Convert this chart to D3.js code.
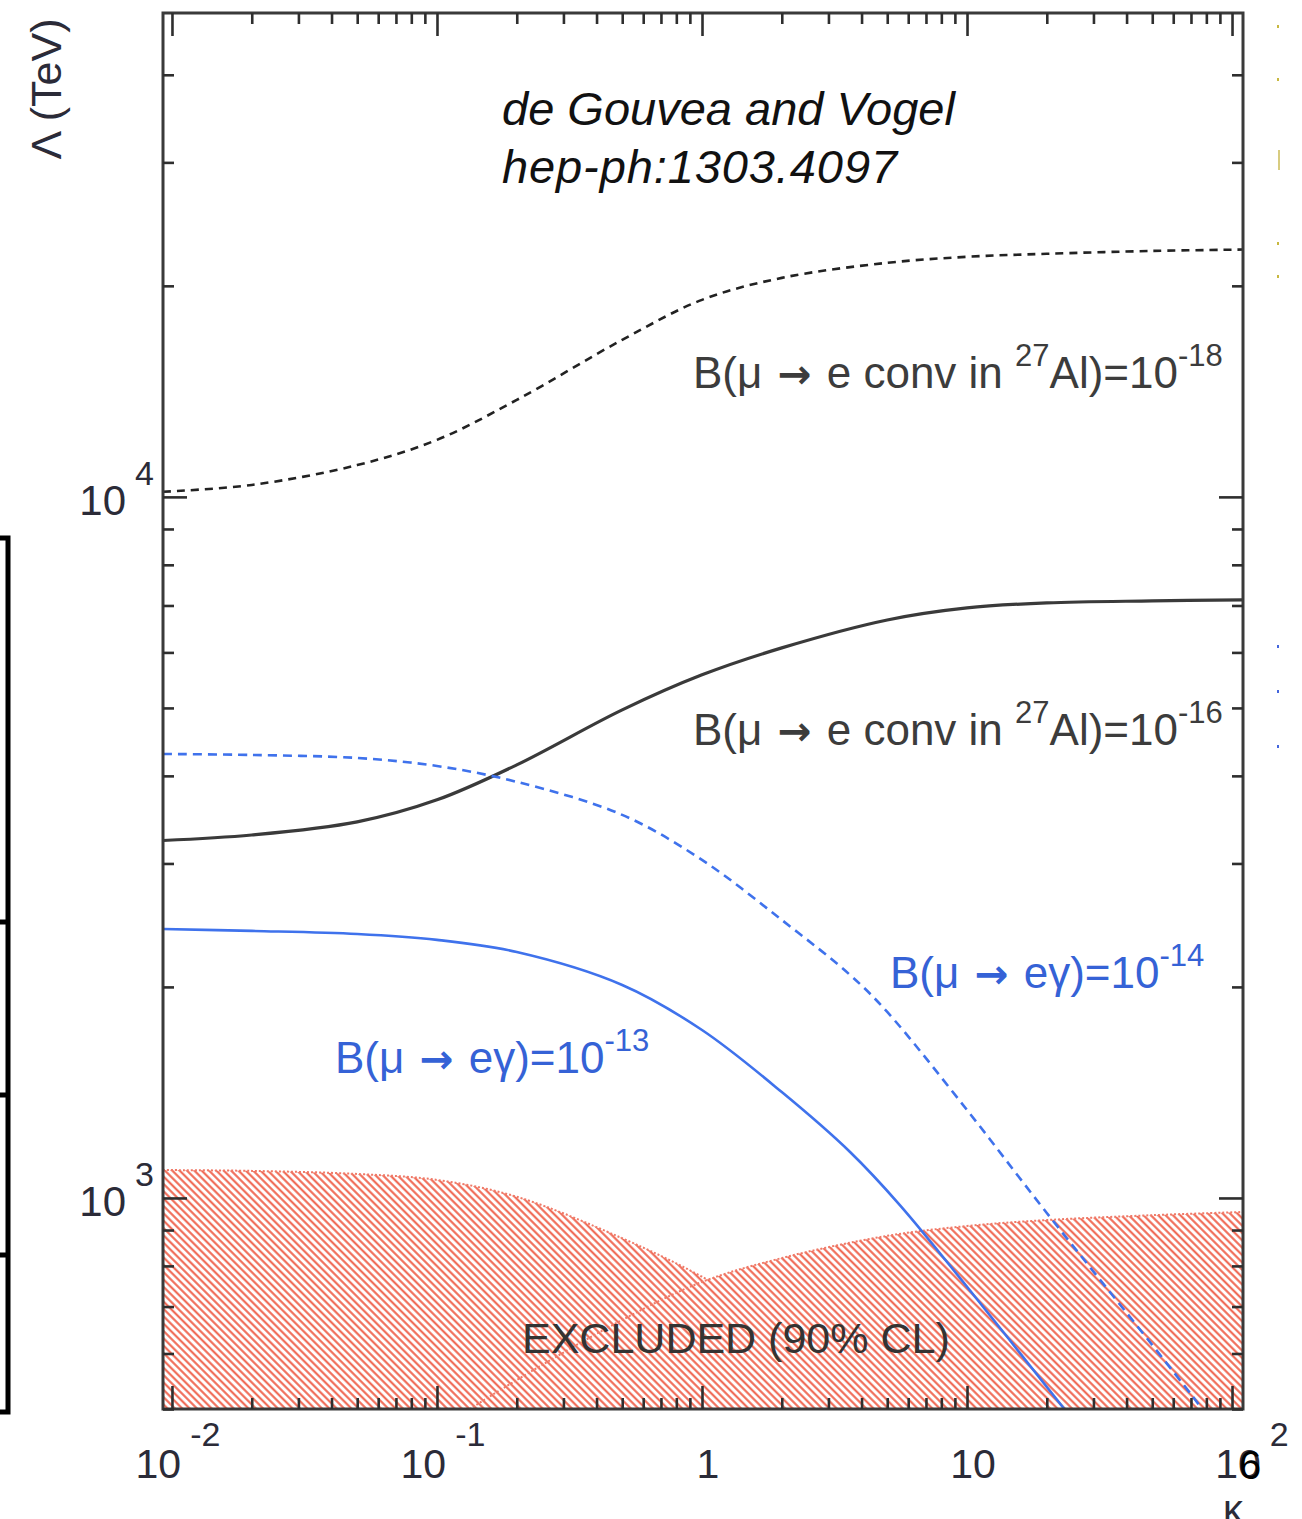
<!DOCTYPE html>
<html>
<head>
<meta charset="utf-8">
<script src="https://cdn.jsdelivr.net/npm/d3@7"></script>
<style>
  body { margin: 0; background: #fff; }
  svg { display: block; font-family: "Liberation Sans", Arial, sans-serif; }
</style>
</head>
<body>
<svg id="chart" width="1302" height="1519"></svg>
<script>
// values: kappa (x) and Lambda in TeV (y)
const kappaConv18 = [0.00925, 0.02, 0.05, 0.1, 0.2, 0.5, 1, 2, 5, 10, 20, 50, 110];
const lambdaConv18 = [10170, 10400, 11100, 12060, 13750, 16750, 19100, 20530, 21570, 22000, 22220, 22430, 22530];

const kappaConv16 = [0.00925, 0.02, 0.05, 0.1, 0.2, 0.5, 1, 2, 5, 10, 20, 50, 110];
const lambdaConv16 = [3235, 3294, 3439, 3697, 4147, 4968, 5574, 6090, 6675, 6945, 7060, 7106, 7130];

const kappaMeg14 = [0.00925, 0.02, 0.05, 0.1, 0.2, 0.5, 1, 2, 3.62, 5, 10, 20, 50, 71.3, 77];
const lambdaMeg14 = [4298, 4284, 4242, 4132, 3922, 3519, 3035, 2492, 2080, 1842, 1335, 952, 617, 520, 500];

const kappaMeg13 = [0.00925, 0.02, 0.05, 0.1, 0.2, 0.5, 1, 2, 3.62, 5.58, 10, 23.3];
const lambdaMeg13 = [2419, 2404, 2380, 2334, 2243, 2013, 1736, 1416, 1163, 977, 747, 500];

// excluded regions (upper edges)
const kappaExclA = [0.00925, 0.02, 0.05, 0.1, 0.2, 0.5, 1, 2, 4];
const lambdaExclA = [1096, 1093, 1082, 1061, 1004, 876, 772, 659, 500];
const kappaExclB = [0.133, 0.2, 0.5, 1, 2, 5, 10, 20, 50, 110];
const lambdaExclB = [500, 550, 670, 759, 821, 883, 912, 930, 945, 955];

const xMajor = [0.01, 0.1, 1, 10, 100];
const xLabels = [["10", "-2"], ["10", "-1"], ["1", ""], ["10", ""], ["10", "2"]];
const yMajor = [1000, 10000];
const yLabels = [["10", "3"], ["10", "4"]];

const svg = d3.select("#chart");
const pLeft = 163, pRight = 1243, pTop = 13, pBottom = 1409;

const x = d3.scaleLog().domain([0.00925, 110]).range([pLeft, pRight]);
const y = d3.scaleLog().domain([500, 49000]).range([pBottom, pTop]);

let xMinor = [];
[0.01, 0.1, 1, 10].forEach(d => { for (let k = 2; k <= 9; k++) xMinor.push(d * k); });
let yMinor = [];
[100, 1000, 10000].forEach(d => { for (let k = 2; k <= 9; k++) { const v = d * k; if (v >= 500 && v <= 49000) yMinor.push(v); } });

function zip(ks, ls) { return ks.map((k, i) => [k, ls[i]]); }

// hatch for excluded area
const defs = svg.append("defs");
const pat = defs.append("pattern")
  .attr("id", "hatch")
  .attr("patternUnits", "userSpaceOnUse")
  .attr("width", 5.2).attr("height", 5.2)
  .attr("patternTransform", "rotate(-45)");
pat.append("rect").attr("width", 5.2).attr("height", 5.2).attr("fill", "#fff");
pat.append("line").attr("x1", 1.3).attr("x2", 1.3).attr("y1", 0).attr("y2", 5.2)
  .attr("stroke", "#ef604a").attr("stroke-width", 2.0);

defs.append("clipPath").attr("id", "plotClip")
  .append("rect").attr("x", pLeft).attr("y", pTop).attr("width", pRight - pLeft).attr("height", pBottom - pTop);

const plot = svg.append("g").attr("clip-path", "url(#plotClip)");

const area = d3.area()
  .x(d => x(d[0])).y0(y(500)).y1(d => y(d[1]))
  .curve(d3.curveCatmullRom.alpha(0.5));
const line = d3.line()
  .x(d => x(d[0])).y(d => y(d[1]))
  .curve(d3.curveCatmullRom.alpha(0.5));

[zip(kappaExclA, lambdaExclA), zip(kappaExclB, lambdaExclB)].forEach(r => {
  plot.append("path").attr("d", area(r)).attr("fill", "url(#hatch)");
  plot.append("path").attr("d", line(r)).attr("fill", "none")
    .attr("stroke", "#ef7a68").attr("stroke-width", 2).attr("stroke-dasharray", "2,2");
});

svg.append("text")
  .attr("x", 522).attr("y", 1353)
  .attr("font-size", 43).attr("fill", "#333")
  .text("EXCLUDED (90% CL)");

// curves
plot.append("path").attr("d", line(zip(kappaConv18, lambdaConv18)))
  .attr("fill", "none").attr("stroke", "#222").attr("stroke-width", 2.6).attr("stroke-dasharray", "8,6");
plot.append("path").attr("d", line(zip(kappaConv16, lambdaConv16)))
  .attr("fill", "none").attr("stroke", "#3a3a3a").attr("stroke-width", 3.2);
plot.append("path").attr("d", line(zip(kappaMeg14, lambdaMeg14)))
  .attr("fill", "none").attr("stroke", "#3f72ec").attr("stroke-width", 2.6).attr("stroke-dasharray", "9,6");
plot.append("path").attr("d", line(zip(kappaMeg13, lambdaMeg13)))
  .attr("fill", "none").attr("stroke", "#3f72ec").attr("stroke-width", 2.6);

// frame and ticks
svg.append("rect").attr("x", pLeft).attr("y", pTop).attr("width", pRight - pLeft).attr("height", pBottom - pTop)
  .attr("fill", "none").attr("stroke", "#3a3a3a").attr("stroke-width", 3);

function ticks(axis, tr, vals, len) {
  const g = svg.append("g").attr("transform", tr)
    .call(axis.tickValues(vals).tickSize(-len).tickFormat(""));
  g.select(".domain").remove();
  g.selectAll(".tick line").attr("stroke", "#2e2e2e").attr("stroke-width", 2.6);
}
ticks(d3.axisBottom(x), `translate(0,${pBottom})`, xMajor, 23);
ticks(d3.axisBottom(x), `translate(0,${pBottom})`, xMinor, 11);
ticks(d3.axisTop(x), `translate(0,${pTop})`, xMajor, 23);
ticks(d3.axisTop(x), `translate(0,${pTop})`, xMinor, 11);
ticks(d3.axisLeft(y), `translate(${pLeft},0)`, yMajor, 24);
ticks(d3.axisLeft(y), `translate(${pLeft},0)`, yMinor, 11);
ticks(d3.axisRight(y), `translate(${pRight},0)`, yMajor, 24);
ticks(d3.axisRight(y), `translate(${pRight},0)`, yMinor, 11);

// text with superscripts; parts are [text, superscript?, dx, font-family]
function rich(sel, parts, size, supSize, rise) {
  let shift = 0;
  parts.forEach(([t, sup, dx, fam]) => {
    if (!t) return;
    const target = sup ? -rise : 0;
    const ts = sel.append("tspan").text(t).attr("font-size", sup ? supSize : size).attr("dy", target - shift);
    if (dx) ts.attr("dx", dx);
    if (fam) ts.attr("font-family", fam).attr("font-weight", "bold").attr("font-size", size * 0.92);
    shift = target;
  });
}

xMajor.forEach((v, i) => {
  const shiftX = i === xMajor.length - 1 ? 20 : 6;
  const t = svg.append("text").attr("x", x(v) + shiftX).attr("y", 1478)
    .attr("text-anchor", "middle").attr("fill", "#2b2b38");
  rich(t, [[xLabels[i][0], false], [xLabels[i][1], true, 9]], 41, 34, 32);
});
yMajor.forEach((v, i) => {
  const t = svg.append("text").attr("x", 154).attr("y", y(v) + 18)
    .attr("text-anchor", "end").attr("fill", "#2b2b38");
  rich(t, [[yLabels[i][0], false], [yLabels[i][1], true, 9]], 42, 34, 30);
});

// page number overprinting the last tick label
svg.append("text").attr("x", 1239).attr("y", 1479).attr("font-size", 40).attr("fill", "#000").text("6");

svg.append("text").attr("transform", "translate(61,89) rotate(-90)")
  .attr("text-anchor", "middle").attr("font-size", 43).attr("fill", "#2b2b38").text("Λ (TeV)");
svg.append("text").attr("x", 1233).attr("y", 1523)
  .attr("text-anchor", "middle").attr("font-size", 40).attr("fill", "#2b2b38").text("κ");

// citation
svg.append("text").attr("x", 502).attr("y", 125).attr("font-size", 47).attr("font-style", "italic")
  .attr("fill", "#111").text("de Gouvea and Vogel");
svg.append("text").attr("x", 502).attr("y", 183).attr("font-size", 47).attr("font-style", "italic")
  .attr("letter-spacing", 0.9).attr("fill", "#111").text("hep-ph:1303.4097");

// curve labels
const arrowFont = "DejaVu Sans";
function curveLabel(px, py, parts, color) {
  const t = svg.append("text").attr("x", px).attr("y", py).attr("fill", color);
  rich(t, parts, 44, 31, 22);
}
curveLabel(693, 388, [["B(μ ", false], ["→", false, 3, arrowFont], [" e conv in ", false, 3], ["27", true], ["Al)=10", false], ["-18", true]], "#3c3c3c");
curveLabel(693, 745, [["B(μ ", false], ["→", false, 3, arrowFont], [" e conv in ", false, 3], ["27", true], ["Al)=10", false], ["-16", true]], "#3c3c3c");
curveLabel(890, 988, [["B(μ ", false], ["→", false, 3, arrowFont], [" eγ)=10", false, 3], ["-14", true]], "#3562d6");
curveLabel(335, 1073, [["B(μ ", false], ["→", false, 3, arrowFont], [" eγ)=10", false, 3], ["-13", true]], "#3562d6");

// slide edge artefacts: table border on the left, specks on the right
svg.append("path")
  .attr("d", "M0,538H8V1412H0M0,922H8M0,1095H8M0,1255H8")
  .attr("fill", "none").attr("stroke", "#000").attr("stroke-width", 5);
[[25, "#c8b840"], [78, "#c8b840"], [242, "#c8b840"], [275, "#c8b840"], [645, "#4466dd"], [690, "#4466dd"], [745, "#4466dd"]]
  .forEach(([py, c]) => svg.append("rect").attr("x", 1277).attr("y", py).attr("width", 2).attr("height", 3).attr("fill", c));
svg.append("rect").attr("x", 1278).attr("y", 150).attr("width", 2).attr("height", 20).attr("fill", "#d8cc80");
</script>
</body>
</html>
